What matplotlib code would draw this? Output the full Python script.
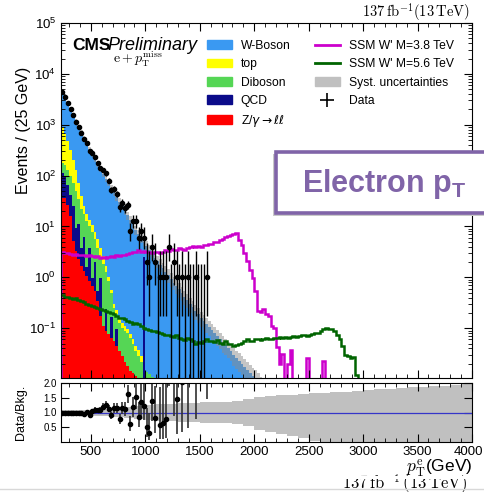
import numpy as np
import matplotlib.pyplot as plt
from matplotlib.patches import Patch, Rectangle
from matplotlib.lines import Line2D
from matplotlib.ticker import MultipleLocator, FixedLocator, LogLocator, NullFormatter, FuncFormatter, NullLocator

plt.rcParams['font.family'] = ['Liberation Sans', 'DejaVu Sans']
plt.rcParams['mathtext.fontset'] = 'custom'
plt.rcParams['mathtext.rm'] = 'Liberation Sans'
plt.rcParams['mathtext.it'] = 'Liberation Sans:italic'
plt.rcParams['mathtext.bf'] = 'Liberation Sans:bold'

# 25 GeV bins starting at 225 GeV
bin_start = 225
bin_width = 25

# background yields per bin (events / 25 GeV), stacked bottom to top
zll = [37, 37, 26, 16, 5.2, 3.3, 2.3, 1.7, 1.35, 1.07, 0.85, 0.68, 0.54, 0.35, 0.17,
       0.11, 0.087, 0.078, 0.065, 0.056, 0.045, 0.035, 0.028, 0.022, 0.018, 0.0145,
       0.013, 0.0115, 0.0105]
qcd = [73, 60, 40, 25, 20, 6, 9, 2, 5, 0.5, 3, 0.3, 1.5, 0.2, 0.8, 0, 0.15, 0, 0.1,
       0, 0.05, 0, 0, 0, 0, 0, 0, 0, 0, 0, 2.5]
diboson = [68, 61, 60, 59, 46, 41, 24, 18.7, 11.4, 11, 6.2, 6.9, 3.6, 3.25, 1.5, 1.75,
           1.02, 0.77, 0.33, 0.19, 0.095, 0.09, 0.072, 0.067, 0.061, 0.049, 0.037,
           0.024, 0.018, 0.022, 0.018, 0.014, 0.0126, 0.011, 0.01, 0.008, 0.006, 0.004]
top = [713, 503, 353, 216, 129, 76, 35, 17.4, 7.3, 5.2, 3.2, 2.6, 2.3, 1.8, 1.3, 0.77,
       0.4, 0.15, 0.08, 0.05, 0.04, 0.03, 0.025, 0.02, 0.018, 0.015, 0.012, 0.01,
       0.008, 0.006, 0.005]
wboson = [3680, 2887, 2213, 1726, 1349, 1049, 842, 668, 525, 409, 318, 252, 201, 160,
          128, 104, 85.3, 70, 56.9, 46.5, 37.8, 30.8, 25.0, 20.3, 16.5, 13.4, 10.9,
          8.46, 7.06, 5.87, 2.38, 4.05, 3.38, 2.87, 2.44, 2.08, 1.78, 1.51, 1.29, 1.10,
          0.93, 0.79, 0.68, 0.58, 0.49, 0.42, 0.355, 0.30, 0.257, 0.219, 0.186, 0.158,
          0.138, 0.120, 0.105, 0.091, 0.079, 0.069, 0.060, 0.052, 0.046, 0.040, 0.035,
          0.030, 0.026, 0.023, 0.020, 0.0174, 0.0151, 0.0132, 0.0115, 0.0100, 0.0085,
          0.0072, 0.0062]

# signal expectations
ssm38 = [3.1, 3.0, 3.0, 2.9, 2.8, 2.9, 2.7, 2.8, 2.7, 2.6, 2.7,
         2.6, 2.5, 2.6, 2.4, 2.5, 2.4, 2.5, 2.6, 2.5, 2.7, 2.6, 2.8, 2.7,
         2.9, 3.0, 3.2, 3.1, 3.4, 3.2, 3.3, 3.1, 3.2, 3.0,
         3.1, 3.2, 3.0, 3.2, 3.4, 3.3, 3.6, 3.4, 3.5, 3.7, 3.6, 3.5,
         3.8, 3.9, 4.1, 3.9, 4.2, 4.0, 4.3, 4.4, 4.6, 4.5, 4.9, 5.0, 5.4, 5.8, 6.2,
         6.6, 6.9, 7.2, 7.4, 5.5, 4.4, 3.0, 2.1, 1.4, 0.95, 0.55, 0.22, 0.21, 0.24,
         0.19, 0.17, 0.11, 0.10, 0.042, 0.02, 0.031, 0, 0.020, 0.038, 0, 0, 0, 0, 0,
         0.026, 0, 0, 0, 0, 0, 0.023, 0]
ssm56 = [0.45, 0.42, 0.42, 0.40, 0.38, 0.40, 0.36, 0.34, 0.33, 0.30, 0.28, 0.27,
         0.26, 0.25, 0.24, 0.23, 0.22, 0.21, 0.20, 0.19, 0.17, 0.16, 0.16, 0.15,
         0.14, 0.13, 0.12, 0.125, 0.12, 0.11, 0.10, 0.095, 0.092, 0.088, 0.09, 0.085,
         0.08, 0.078, 0.072, 0.075, 0.07, 0.068, 0.072, 0.065, 0.062, 0.058, 0.065,
         0.06, 0.055, 0.05, 0.054, 0.052, 0.056, 0.06, 0.055, 0.057, 0.054, 0.058,
         0.052, 0.05, 0.055, 0.05, 0.048, 0.045, 0.047, 0.05, 0.052, 0.055, 0.06,
         0.056, 0.057, 0.06, 0.062, 0.058, 0.06, 0.063, 0.06, 0.062, 0.065, 0.063,
         0.066, 0.063, 0.067, 0.064, 0.068, 0.07, 0.066, 0.07, 0.072, 0.075, 0.07,
         0.074, 0.076, 0.08, 0.082, 0.088, 0.095, 0.1, 0.098, 0.095, 0.09, 0.075,
         0.06, 0.045, 0.03, 0.028, 0.026, 0.027, 0.012, 0]

# observed events per bin
data = [4434, 3477, 2665, 2001, 1534, 1140, 912, 694, 517, 440,
        305, 274, 230, 179, 144, 128, 110, 80, 52, 54,
        44, 24, 29, 23, 27, 8, 13, 13, 6, 8,
        6, 2, 1, 4, 2, 0, 1, 1, 1, 4,
        0, 2, 1, 0, 1, 0, 1, 0, 0, 1,
        0, 0, 0, 1]

# relative systematic band (100 GeV steps)
band_edges = [225] + list(range(300, 4001, 100))
band_up = [1.08, 1.08, 1.09, 1.11, 1.13, 1.15, 1.18, 1.21, 1.25, 1.28, 1.30, 1.31,
           1.33, 1.34, 1.35, 1.36, 1.39, 1.45, 1.52, 1.57, 1.59, 1.61, 1.63, 1.65,
           1.67, 1.69, 1.71, 1.74, 1.77, 1.79, 1.81, 1.83, 1.85, 1.87, 1.89, 1.91,
           1.93, 1.95]
band_down = [0.92, 0.92, 0.91, 0.89, 0.87, 0.85, 0.82, 0.79, 0.75, 0.72, 0.70, 0.69,
             0.67, 0.66, 0.65, 0.64, 0.61, 0.53, 0.42, 0.34, 0.27, 0.20, 0.12, 0.05,
             0, 0, 0, 0, 0, 0, 0, 0, 0, 0, 0, 0, 0, 0]

# Garwood 68% intervals for small counts
gw_lo = [0, 0.173, 0.708, 1.367, 2.086, 2.840, 3.620, 4.419, 5.232, 6.057, 6.891]
gw_hi = [1.841, 3.300, 4.638, 5.918, 7.163, 8.382, 9.584, 10.77, 11.95, 13.11, 14.27]

c_w, c_top, c_vv, c_qcd, c_z = '#3a99f2', '#ffff00', '#55d655', '#0b0b8a', '#ff0000'
c_s38, c_s56 = '#cc00cc', '#006400'


def edges_for(n):
    return bin_start + bin_width * np.arange(n + 1)


def padded(vals, n):
    out = np.zeros(n)
    out[:len(vals)] = vals
    return out


W, H = 485, 492
fig = plt.figure(figsize=(W / 100, H / 100), dpi=100)
ax = fig.add_axes([61 / W, 1 - 378 / H, 411 / W, 355 / H])
rax = fig.add_axes([61 / W, 1 - 442 / H, 411 / W, 59 / H])

nb = len(wboson)
edges = edges_for(nb)
base = np.zeros(nb)
for vals, col in [(zll, c_z), (qcd, c_qcd), (diboson, c_vv), (top, c_top), (wboson, c_w)]:
    v = padded(vals, nb)
    ax.stairs(base + v, edges, baseline=base.copy(), fill=True, color=col, lw=0)
    base = base + v
total = base

# systematic band on the total
centers = edges[:-1] + bin_width / 2
seg = np.searchsorted(band_edges, centers, side='right') - 1
ax.stairs(total * np.array(band_up)[seg], edges, baseline=total * np.array(band_down)[seg],
          fill=True, color='#8c8c8c', alpha=0.5, lw=0)

ax.stairs(ssm38, edges_for(len(ssm38)), baseline=0, color=c_s38, lw=1.8)
ax.stairs(ssm56, edges_for(len(ssm56)), baseline=None, color=c_s56, lw=1.8)

# data
n = np.array(data, dtype=float)
dc = edges_for(len(data))[:-1] + bin_width / 2
lo = np.array([gw_lo[int(k)] if k <= 10 else k - np.sqrt(k) for k in n])
hi = np.array([gw_hi[int(k)] if k <= 10 else k + np.sqrt(k) for k in n])
pos = n > 0
ax.errorbar(dc[pos], n[pos], yerr=[n[pos] - lo[pos], hi[pos] - n[pos]], fmt='o',
            ms=3.0, color='k', elinewidth=1.0, capsize=0, zorder=5)
ax.vlines(dc[~pos], 1e-4, hi[~pos], color='k', lw=1.0, zorder=5)

ax.set_yscale('log')
ax.set_ylim(0.0105, 1e5)
ax.set_xlim(225, 4000)

# ratio panel
rax.stairs(band_up, band_edges, baseline=band_down, fill=True, color='#c0c0c0', lw=0)
rax.axhline(1.0, color='#3535c8', lw=0.9)
tb = total[:len(data)]
rax.errorbar(dc[pos], n[pos] / tb[pos],
             yerr=[(n[pos] - lo[pos]) / tb[pos], (hi[pos] - n[pos]) / tb[pos]],
             fmt='o', ms=3.0, color='k', ecolor='#303030', elinewidth=1.2, capsize=0)
rax.set_xlim(225, 4000)
rax.set_ylim(0, 2.0)
rax.yaxis.set_major_locator(FixedLocator([0.5, 1.0, 1.5, 2.0]))
rax.yaxis.set_minor_locator(NullLocator())

for a in (ax, rax):
    a.xaxis.set_major_locator(MultipleLocator(500))
    a.xaxis.set_minor_locator(MultipleLocator(100))
    a.tick_params(which='both', direction='in', top=True, right=True)
    a.tick_params(which='major', length=6, width=0.8)
    a.tick_params(which='minor', length=3, width=0.6)
ax.yaxis.set_minor_locator(LogLocator(base=10, subs=np.arange(2, 10), numticks=20))
ax.yaxis.set_minor_formatter(NullFormatter())
ax.tick_params(labelbottom=False, labelsize=9.5)
rax.tick_params(axis='x', labelsize=9.5, pad=3)
rax.tick_params(axis='y', labelsize=7, pad=3)
# the last label sits a little inside the frame edge
rax.xaxis.set_major_formatter(FuncFormatter(lambda v, p: '' if v >= 4000 else f'{v:.0f}'))
fig.text(468 / W, 1 - 452 / H, '4000', ha='center', va='center', fontsize=9.5)

fig.text(24 / W, 1 - 130 / H, 'Events / (25 GeV)', rotation=90, ha='center', va='center', fontsize=11.5)
fig.text(21 / W, 1 - 412 / H, 'Data/Bkg.', rotation=90, ha='center', va='center', fontsize=9)
fig.text(472 / W, 1 - 468 / H, r'$p_{\mathrm{T}}^{\mathrm{e}}$(GeV)', ha='right', va='center',
         fontsize=12.5, math_fontfamily='cm')
fig.text(470 / W, 1 - 12 / H, r'$137\,\mathrm{fb}^{-1}(13\,\mathrm{TeV})$', ha='right', va='center',
         fontsize=10.5, math_fontfamily='cm')

# luminosity line at the very bottom, its upper part hidden
fig.text(467 / W, 1 - 489 / H, r'$137\,\mathrm{fb}^{-1}\,(13\,\mathrm{TeV})$', ha='right',
         va='baseline', fontsize=12, math_fontfamily='cm', zorder=1)
fig.add_artist(Rectangle((0, 1 - 479 / H), 1, 3.5 / H, transform=fig.transFigure,
                         facecolor='white', edgecolor='none', zorder=2))
fig.add_artist(Line2D([0, 1], [1 - 489 / H] * 2, transform=fig.transFigure, color='#d8d8d8', lw=1, zorder=2))

fig.text(72 / W, 1 - 50 / H, 'CMS', fontweight='bold', fontsize=12.5)
fig.text(107 / W, 1 - 50 / H, 'Preliminary', fontstyle='italic', fontsize=13)
fig.text(138 / W, 1 - 59 / H, r'$\mathrm{e}+p_{\mathrm{T}}^{\mathrm{miss}}$', ha='center', va='center',
         fontsize=10, math_fontfamily='cm')

handles = [Patch(color=c_w, label='W-Boson'),
           Patch(color=c_top, label='top'),
           Patch(color=c_vv, label='Diboson'),
           Patch(color=c_qcd, label='QCD'),
           Patch(color=c_z, label=r'Z/$\gamma\rightarrow\ell\ell$'),
           Line2D([], [], color=c_s38, lw=2, label="SSM W' M=3.8 TeV"),
           Line2D([], [], color=c_s56, lw=2, label="SSM W' M=5.6 TeV"),
           Patch(color='#c0c0c0', label='Syst. uncertainties'),
           Line2D([], [], color='k', marker='+', ls='none', ms=10, mew=1.2, label='Data')]
leg = ax.legend(handles=handles, loc='upper left', bbox_to_anchor=(207 / W, 1 - 40 / H),
                bbox_transform=fig.transFigure, ncol=2, frameon=False,
                handlelength=2.1, handleheight=0.75, handletextpad=0.7, columnspacing=2.0,
                labelspacing=0.52, borderpad=0, borderaxespad=0, fontsize=8.7)
leg.get_texts()[4].set_math_fontfamily('dejavusans')

# highlighted label box
purple = '#8064a8'
fig.add_artist(Rectangle((273 / W, 1 - 216 / H), 230 / W, 62 / H, transform=fig.transFigure,
                         facecolor='#c8c8c8', edgecolor='none', zorder=5))
fig.add_artist(Rectangle((276 / W, 1 - 213 / H), 230 / W, 61 / H, transform=fig.transFigure,
                         facecolor='white', edgecolor=purple, lw=2.6, zorder=6))
fig.text(302 / W, 1 - 192 / H, r'Electron p$_{\mathbf{T}}$', color=purple, fontsize=22,
         fontweight='bold', zorder=7)

fig.savefig('out.png', dpi=100)
